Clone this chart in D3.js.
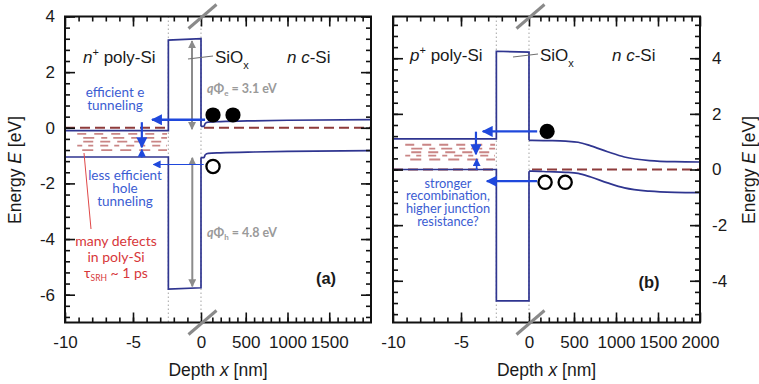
<!DOCTYPE html>
<html>
<head>
<meta charset="utf-8">
<script src="https://cdn.jsdelivr.net/npm/d3@7/dist/d3.min.js"></script>
<style>
  html, body { margin: 0; padding: 0; background: #fff; }
  svg { display: block; }
  .tick text { font-family: "Liberation Sans", Arial, sans-serif; font-size: 17px; fill: #1a1a1a; }
</style>
</head>
<body>
<svg id="chart" width="759" height="384"></svg>
<script>
// ---- data ----
const xTicksThin = [-10, -5, 0];              // nm, poly-Si + oxide segment
const xTicksDeepA = [500, 1000, 1500];        // nm, c-Si segment, panel (a)
const xTicksDeepB = [500, 1000, 1500, 2000];  // nm, c-Si segment, panel (b)
const yTicksA = [-6, -4, -2, 0, 2, 4];
const yTicksB = [-4, -2, 0, 2, 4];

const oxideEdges = [-2.4, 0];                 // nm

// panel (a): n+ poly-Si / SiOx / n c-Si
const polyBandsA = [-0.1, -1.05];             // Ec, Ev in poly-Si [eV]
const oxideTopA = [3.15, 3.2];                // SiOx conduction band edge (left, right)
const oxideBotA = [-5.8, -5.75];              // SiOx valence band edge (left, right)
const depthA = [0, 15, 50, 200, 600, 1000, 2000];
const ecA = [0.05, 0.16, 0.2, 0.22, 0.25, 0.27, 0.29];
const evA = [-1.07, -0.97, -0.92, -0.9, -0.87, -0.85, -0.82];
const defectsA = [-0.22, -0.36, -0.5, -0.64, -0.8];

// panel (b): p+ poly-Si / SiOx / n c-Si
const polyBandsB = [1.1, 0];
const oxideTopB = [4.25, 4.22];
const oxideBotB = [-4.72, -4.72];
const depthB = [0, 200, 400, 550, 700, 900, 1100, 1400, 1700, 2000];
const ecB = [1.05, 1.04, 1.02, 0.98, 0.85, 0.64, 0.45, 0.32, 0.28, 0.27];
const evB = [-0.06, -0.08, -0.1, -0.14, -0.27, -0.48, -0.66, -0.78, -0.82, -0.83];
const defectsB = [0.89, 0.75, 0.62, 0.5, 0.36];

// barrier heights drawn as gray double arrows: [x nm, E from, E to]
const barriersA = [[-0.66, 3.12, -0.05], [-0.64, -1.08, -5.7]];

// carrier flow arrows: [x1, x2, E, width] horizontal, [x, E1, E2, width] vertical
const flowA = {
  hor: [[0.3, -3.6, 0.29, 2.4], [0.2, -3.5, -1.32, 1.2]],
  ver: [[-4.35, 0.2, -0.7, 2.2], [-4.35, -1.08, -0.78, 1.2]]
};
const flowB = {
  hor: [[0.6, -3.4, 1.37, 2.4], [0.6, -3.1, -0.42, 2.2]],
  ver: [[-3.9, 1.36, 0.55, 2.2], [-3.85, -0.02, 0.38, 1.6]]
};

// carriers: [depth nm (c-Si), E, filled]
const carriersA = [[108, 0.46, true], [347, 0.46, true], [108, -1.39, false]];
const carriersB = [[180, 1.37, true], [156, -0.46, false], [395, -0.46, false]];

// ---- drawing ----
const svg = d3.select("#chart");
const BAND = "#2f3590", FERMI = "#8e3b3b", DEFECT = "#c98585";
const ARROW = "#1f48dc", TXTBLUE = "#3b5cd2", TXTRED = "#d7373a", GRAY = "#8c8c8c";
const ANNOT = "Lato, 'Open Sans', sans-serif";
const AXF = "'Liberation Sans', Arial, sans-serif";
const plain = d => String(d);

const defs = svg.append("defs");
function marker(id, color, size) {
  defs.append("marker").attr("id", id).attr("viewBox", "0 0 10 10")
    .attr("refX", 9).attr("refY", 5).attr("markerUnits", "userSpaceOnUse")
    .attr("markerWidth", size).attr("markerHeight", size).attr("orient", "auto-start-reverse")
    .append("path").attr("d", "M0,0 L10,5 L0,10 z").attr("fill", color);
}
marker("headBlue", ARROW, 11);
marker("headBlueS", ARROW, 8);
marker("headGray", GRAY, 8);

function panel(cfg) {
  const { L, R, T, B } = cfg;
  const g = svg.append("g");
  const xl = d3.scaleLinear().domain([-10, 0]).range([L, L + 136]);
  const xd = d3.scaleLinear().domain([0, 2000]).range([L + 139, R]);
  const y = d3.scaleLinear().domain(cfg.yDomain).range([B, T]);

  // dotted guides at the oxide interfaces
  g.selectAll(".guide").data(oxideEdges).join("line")
    .attr("x1", d => xl(d)).attr("x2", d => xl(d)).attr("y1", T).attr("y2", B)
    .attr("stroke", "#b4b4b4").attr("stroke-width", 1.2).attr("stroke-dasharray", "1.5,2.5");

  // trap levels in poly-Si
  const dashes = ["9,8", "6,6,11,7", "10,7", "8,6,5,7", "11,8"];
  g.selectAll(".defect").data(cfg.defects).join("line")
    .attr("x1", xl(-9.1)).attr("x2", xl(-2.5))
    .attr("y1", d => y(d)).attr("y2", d => y(d))
    .attr("stroke", DEFECT).attr("stroke-width", 1.8)
    .attr("stroke-dasharray", (d, i) => dashes[i % dashes.length])
    .attr("stroke-dashoffset", (d, i) => [0, 6, 11, 3, 14][i % 5]);

  // Fermi level
  const fermiStyle = s => s.attr("stroke", FERMI).attr("stroke-width", 2.2)
    .attr("stroke-dasharray", "10,5").attr("fill", "none");
  g.append("line").attr("x1", xl(-10)).attr("x2", xl(oxideEdges[0]))
    .attr("y1", y(0)).attr("y2", y(0)).call(fermiStyle);
  g.append("line").attr("x1", xd(0)).attr("x2", xd(2000))
    .attr("y1", y(0)).attr("y2", y(0)).call(fermiStyle);

  // band edges: poly-Si -> oxide barrier -> c-Si
  const straight = d3.line();
  const smooth = d3.line().curve(d3.curveMonotoneX);
  const bandStyle = s => s.attr("fill", "none").attr("stroke", BAND).attr("stroke-width", 1.7);
  [[cfg.poly[0], cfg.oxTop, cfg.ec], [cfg.poly[1], cfg.oxBot, cfg.ev]].forEach(([p, ox, c]) => {
    g.append("path").call(bandStyle).attr("d", straight([
      [xl(-10), y(p)], [xl(oxideEdges[0]), y(p)], [xl(oxideEdges[0]), y(ox[0])],
      [xl(oxideEdges[1]), y(ox[1])], [xl(oxideEdges[1]), y(c[0])]
    ]));
    const pts = [[xl(oxideEdges[1]), y(c[0])]].concat(cfg.depth.map((d, i) => [xd(d), y(c[i])]));
    g.append("path").call(bandStyle).attr("d", smooth(pts));
  });

  // barrier height arrows
  if (cfg.barriers) {
    g.selectAll(".barrier").data(cfg.barriers).join("line")
      .attr("x1", d => xl(d[0])).attr("x2", d => xl(d[0]))
      .attr("y1", d => y(d[1])).attr("y2", d => y(d[2]))
      .attr("stroke", GRAY).attr("stroke-width", 2)
      .attr("marker-start", "url(#headGray)").attr("marker-end", "url(#headGray)");
  }

  // carrier flow arrows
  g.selectAll(".hflow").data(cfg.flow.hor).join("line")
    .attr("x1", d => xl(d[0])).attr("x2", d => xl(d[1]))
    .attr("y1", d => y(d[2])).attr("y2", d => y(d[2]))
    .attr("stroke", ARROW).attr("stroke-width", d => d[3])
    .attr("marker-end", d => d[3] > 2 ? "url(#headBlue)" : "url(#headBlueS)");
  g.selectAll(".vflow").data(cfg.flow.ver).join("line")
    .attr("x1", d => xl(d[0])).attr("x2", d => xl(d[0]))
    .attr("y1", d => y(d[1])).attr("y2", d => y(d[2]))
    .attr("stroke", ARROW).attr("stroke-width", d => d[3])
    .attr("marker-end", d => d[3] > 2 ? "url(#headBlue)" : "url(#headBlueS)");

  // electrons and holes
  g.selectAll(".carrier").data(cfg.carriers).join("circle")
    .attr("cx", d => xd(d[0])).attr("cy", d => y(d[1]))
    .attr("r", d => d[2] ? 7.6 : 6.6)
    .attr("fill", d => d[2] ? "#000" : "#fff")
    .attr("stroke", "#000").attr("stroke-width", d => d[2] ? 0 : 2.3);

  // axes: inward ticks on all four sides
  const tickStyle = sel => {
    sel.select(".domain").remove();
    sel.selectAll(".tick line").attr("stroke", "#111").attr("stroke-width", 1.6);
  };
  const xAxes = (axisFn, yPos, labels) => {
    const major = (scale, vals) => {
      const a = axisFn(scale).tickValues(vals).tickSizeInner(-10).tickSizeOuter(0).tickPadding(13)
        .tickFormat(labels ? plain : "");
      g.append("g").attr("transform", `translate(0,${yPos})`).call(a).call(tickStyle);
    };
    const minor = (scale, vals) => {
      g.append("g").attr("transform", `translate(0,${yPos})`)
        .call(axisFn(scale).tickValues(vals).tickSize(-5).tickFormat("")).call(tickStyle);
    };
    major(xl, xTicksThin);
    minor(xl, d3.range(-9, 0, 1));
    major(xd, cfg.deepTicks);
    minor(xd, d3.range(100, 2000, 100));
  };
  xAxes(d3.axisBottom, B, true);
  xAxes(d3.axisTop, T, false);

  const yMinor = d3.range(cfg.yMinorStart, cfg.yDomain[1] + 0.01, 0.4);
  const yAxes = (axisFn, xPos, labels, pad) => {
    const a = axisFn(y).tickValues(cfg.yTicks).tickSizeInner(-10).tickSizeOuter(0).tickPadding(pad)
      .tickFormat(labels ? plain : "");
    g.append("g").attr("transform", `translate(${xPos},0)`).call(a).call(tickStyle);
    g.append("g").attr("transform", `translate(${xPos},0)`)
      .call(axisFn(y).tickValues(yMinor).tickSize(-5).tickFormat("")).call(tickStyle);
  };
  yAxes(d3.axisLeft, L, cfg.labelSide === "left", 10);
  yAxes(d3.axisRight, R, cfg.labelSide === "right", 12);
  g.selectAll(".tick text").attr("font-family", null).attr("font-size", null);

  // frame
  g.append("rect").attr("x", L).attr("y", T).attr("width", R - L).attr("height", B - T)
    .attr("fill", "none").attr("stroke", "#111").attr("stroke-width", 2);

  // axis break marks
  const bx = xl(0) + 1.5;
  [T, B].forEach(yy => {
    g.append("line").attr("x1", bx - 14).attr("y1", yy + 12).attr("x2", bx + 14).attr("y2", yy - 12)
      .attr("stroke", "#8a8a8a").attr("stroke-width", 3);
  });

  // axis titles
  const xt = g.append("text").attr("x", (L + R) / 2).attr("y", 376)
    .attr("text-anchor", "middle").attr("font-family", AXF).attr("font-size", 17.5).attr("fill", "#1a1a1a");
  xt.append("tspan").text("Depth ");
  xt.append("tspan").attr("font-style", "italic").text("x");
  xt.append("tspan").text(" [nm]");

  const yt = g.append("text").attr("transform", `translate(${cfg.yTitleX},170) rotate(-90)`)
    .attr("text-anchor", "middle").attr("font-family", AXF).attr("font-size", 17.5).attr("fill", "#1a1a1a");
  yt.append("tspan").text("Energy ");
  yt.append("tspan").attr("font-style", "italic").text("E");
  yt.append("tspan").text(" [eV]");

  // region labels
  const region = (x, base, parts) => {
    const t = g.append("text").attr("x", x).attr("y", base).attr("font-family", AXF)
      .attr("font-size", 17).attr("fill", "#1a1a1a");
    parts.forEach(p => {
      const s = t.append("tspan").text(p.t);
      if (p.i) s.attr("font-style", "italic");
      if (p.sup) s.attr("font-size", 11).attr("dy", -7);
      if (p.sub) s.attr("font-size", 11).attr("dy", 6);
      if (p.back) s.attr("dy", p.back);
    });
  };
  region(cfg.polyLabelX, cfg.labelY, [{ t: cfg.dopant, i: true }, { t: "+", sup: true }, { t: " poly-Si", back: 7 }]);
  region(cfg.oxLabelX, cfg.labelY, [{ t: "SiO" }, { t: "x", sub: true }]);
  region(cfg.siLabelX, cfg.labelY, [{ t: "n", i: true }, { t: " " }, { t: "c", i: true }, { t: "-Si" }]);
  g.append("line").attr("x1", cfg.oxLabelX - 27).attr("y1", cfg.labelY - 4)
    .attr("x2", cfg.oxLabelX - 2).attr("y2", cfg.labelY - 7)
    .attr("stroke", "#707070").attr("stroke-width", 1.1);

  // panel tag
  g.append("text").attr("x", cfg.tag[1]).attr("y", cfg.tag[2]).attr("text-anchor", "middle")
    .attr("font-family", AXF).attr("font-weight", "bold").attr("font-size", 16.5)
    .attr("fill", "#1a1a1a").text(cfg.tag[0]);

  return g;
}

function note(g, x, y0, lines, color, size, lh) {
  lines.forEach((l, i) => g.append("text").attr("text-anchor", "middle")
    .attr("font-family", ANNOT).attr("font-size", size).attr("fill", color)
    .attr("x", x).attr("y", y0 + i * lh).text(l));
}

// panel (a)
const gA = panel({
  L: 65, R: 371, T: 16.5, B: 322.5, yDomain: [-7, 4], yTicks: yTicksA, yMinorStart: -6.8,
  deepTicks: xTicksDeepA, labelSide: "left", yTitleX: 21,
  poly: polyBandsA, oxTop: oxideTopA, oxBot: oxideBotA, depth: depthA, ec: ecA, ev: evA,
  defects: defectsA, barriers: barriersA, flow: flowA, carriers: carriersA,
  dopant: "n", polyLabelX: 83, oxLabelX: 215, siLabelX: 287, labelY: 63, tag: ["(a)", 326, 284]
});
note(gA, 115, 97, ["efficient e", "tunneling"], TXTBLUE, 13.5, 12.5);
note(gA, 125, 180, ["less efficient", "hole", "tunneling"], TXTBLUE, 13.5, 12.8);
note(gA, 116, 246, ["many defects", "in poly-Si"], TXTRED, 14, 16);
const tau = gA.append("text").attr("x", 116).attr("y", 278).attr("text-anchor", "middle")
  .attr("font-family", ANNOT).attr("font-size", 14).attr("fill", TXTRED);
tau.append("tspan").text("τ");
tau.append("tspan").attr("font-size", 8.5).attr("dy", 3).text("SRH");
tau.append("tspan").attr("dy", -3).text(" ~ 1 ps");
gA.append("line").attr("x1", 84).attr("y1", 153).attr("x2", 91).attr("y2", 229)
  .attr("stroke", "#e04848").attr("stroke-width", 1);
[["e", "3.1", 93], ["h", "4.8", 237]].forEach(([s, v, yy]) => {
  const t = gA.append("text").attr("x", 207).attr("y", yy).attr("font-family", ANNOT)
    .attr("font-size", 12.5).attr("font-weight", "bold").attr("fill", "#9a9a9a");
  t.append("tspan").attr("font-style", "italic").text("q");
  t.append("tspan").text("Φ");
  t.append("tspan").attr("font-size", 8).attr("dy", 3).text(s);
  t.append("tspan").attr("dy", -3).text(" = " + v + " eV");
});

// panel (b)
const gB = panel({
  L: 393, R: 700, T: 16.5, B: 322.5, yDomain: [-5.5, 5.5], yTicks: yTicksB, yMinorStart: -5.2,
  deepTicks: xTicksDeepB, labelSide: "right", yTitleX: 755,
  poly: polyBandsB, oxTop: oxideTopB, oxBot: oxideBotB, depth: depthB, ec: ecB, ev: evB,
  defects: defectsB, barriers: null, flow: flowB, carriers: carriersB,
  dopant: "p", polyLabelX: 410, oxLabelX: 540, siLabelX: 612, labelY: 61, tag: ["(b)", 649, 288]
});
note(gB, 448, 187.5, ["stronger", "recombination,", "higher junction", "resistance?"], TXTBLUE, 12.8, 12.8);
</script>
</body>
</html>
